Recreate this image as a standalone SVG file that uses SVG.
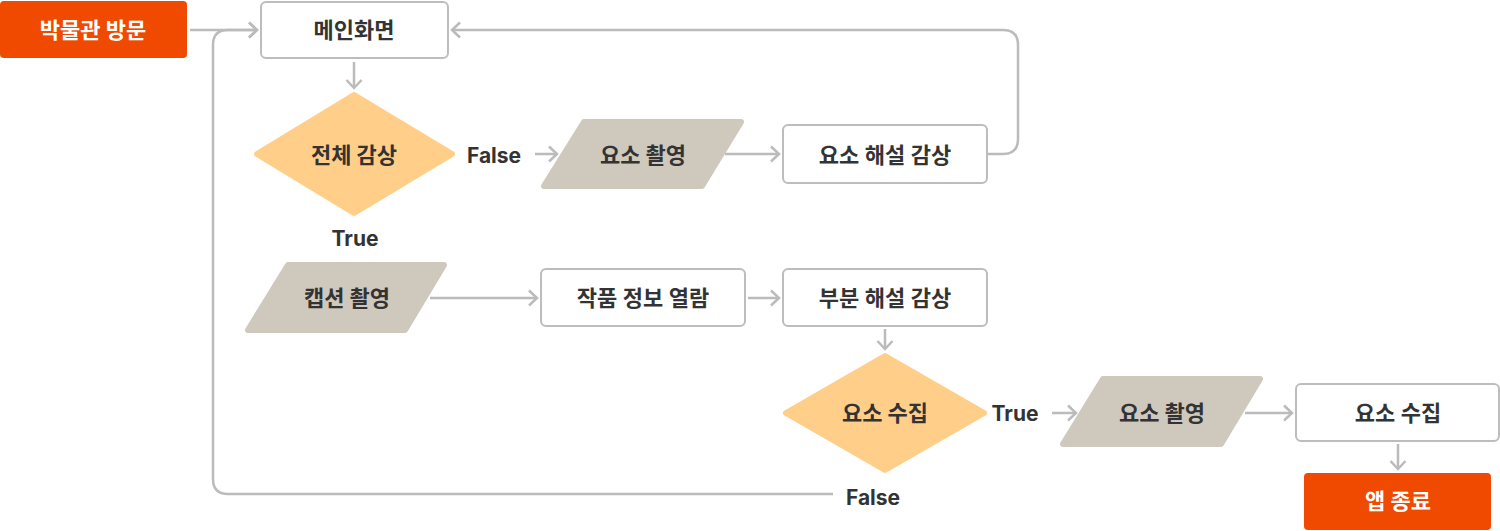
<svg xmlns="http://www.w3.org/2000/svg" width="1500" height="531" viewBox="0 0 1500 531">
<style>
text{font-family:Inter,"Noto Sans CJK KR","Noto Sans",sans-serif;font-size:22px;font-weight:700;fill:#333;text-anchor:middle;dominant-baseline:central}
.term{fill:#F04A00}
.term-t{fill:#fff}
.box{fill:#fff;stroke:#BDBDBD;stroke-width:2}
.box-t{font-weight:600}
.dec{fill:#FFCF8A;stroke:#FFCF8A;stroke-width:6;stroke-linejoin:round}
.io{fill:#CFC9BD;stroke:#CFC9BD;stroke-width:6;stroke-linejoin:round}
.conn path{fill:none;stroke:#BBBBBB;stroke-width:2.5}
.lbl{font-size:21px}
</style>
<defs>
<marker id="arr" markerUnits="userSpaceOnUse" markerWidth="12" markerHeight="18" refX="10" refY="9" orient="auto">
<path d="M2,1.5 L10,9 L2,16.5" fill="none" stroke="#BBBBBB" stroke-width="2.5"/>
</marker>
</defs>
<g class="conn" id="connectors">
<path d="M190,30 H257" marker-end="url(#arr)"/>
<path d="M833,494 H228 Q213,494 213,479 V45 Q213,30 228,30 H257" marker-end="url(#arr)"/>
<path d="M988,154 H1003 Q1018,154 1018,139 V45 Q1018,30 1003,30 H452" marker-end="url(#arr)"/>
<path d="M354,62 V88" marker-end="url(#arr)"/>
<path d="M535,154 H557" marker-end="url(#arr)"/>
<path d="M725,154 H779" marker-end="url(#arr)"/>
<path d="M430,298 H537" marker-end="url(#arr)"/>
<path d="M748,298 H779" marker-end="url(#arr)"/>
<path d="M885,329 V349" marker-end="url(#arr)"/>
<path d="M1052,413 H1076" marker-end="url(#arr)"/>
<path d="M1245,413 H1292" marker-end="url(#arr)"/>
<path d="M1398,444 V469" marker-end="url(#arr)"/>
</g>
<g id="visit"><rect class="term" x="0" y="1" width="187" height="57" rx="4"/><text class="term-t" x="93" y="30">박물관 방문</text></g>
<g id="main"><rect class="box" x="261" y="2" width="187" height="56" rx="5"/><text class="box-t" x="354" y="30">메인화면</text></g>
<g id="d1"><polygon class="dec" points="354,95 452,154 354,213 257,154"/><text x="354" y="155">전체 감상</text></g>
<text class="lbl" x="494" y="155">False</text>
<g id="io1"><polygon class="io" points="584,122 741,122 702,186 544,186"/><text x="643" y="155">요소 촬영</text></g>
<g id="elemexp"><rect class="box" x="783" y="125" width="204" height="58" rx="5"/><text class="box-t" x="885" y="155">요소 해설 감상</text></g>
<text class="lbl" x="355" y="238">True</text>
<g id="io2"><polygon class="io" points="288,265 444,265 405,330 248,330"/><text x="347" y="298">캡션 촬영</text></g>
<g id="info"><rect class="box" x="541" y="269" width="204" height="57" rx="5"/><text class="box-t" x="643" y="298">작품 정보 열람</text></g>
<g id="partexp"><rect class="box" x="783" y="269" width="204" height="57" rx="5"/><text class="box-t" x="885" y="298">부분 해설 감상</text></g>
<g id="d2"><polygon class="dec" points="885,356 984,413 885,470 786,413"/><text x="885" y="413">요소 수집</text></g>
<text class="lbl" x="1015" y="413">True</text>
<g id="io3"><polygon class="io" points="1103,379 1260,379 1221,444 1063,444"/><text x="1162" y="413">요소 촬영</text></g>
<g id="collect"><rect class="box" x="1296" y="384" width="203" height="57" rx="5"/><text class="box-t" x="1398" y="413">요소 수집</text></g>
<text class="lbl" x="873" y="497">False</text>
<g id="end"><rect class="term" x="1304" y="473" width="187" height="57" rx="4"/><text class="term-t" x="1398" y="501">앱 종료</text></g>
</svg>
